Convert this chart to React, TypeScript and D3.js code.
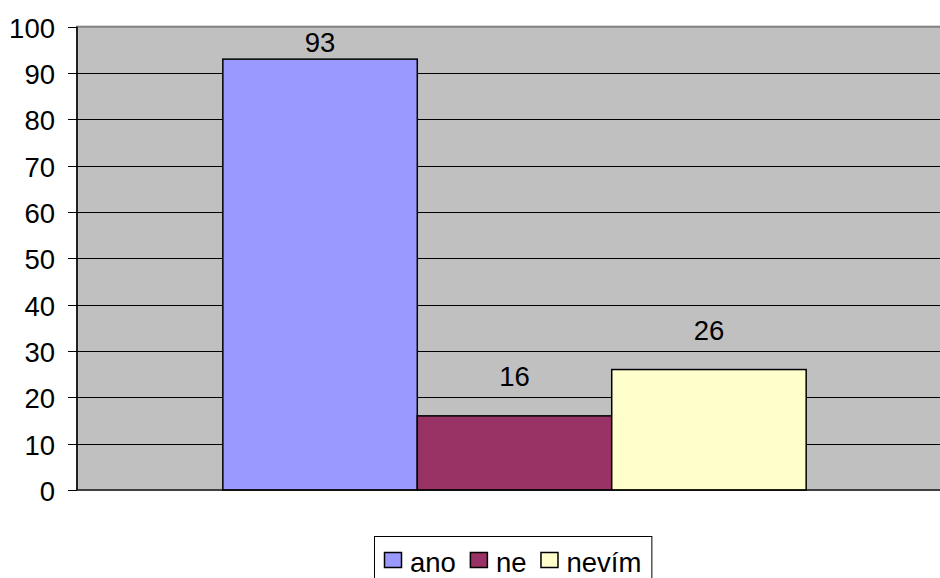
import React, { useMemo } from "react";
import * as d3 from "d3";

// Survey answers: one bar per answer
const categories = ["ano", "ne", "nevím"];
const values = [93, 16, 26];
const colors = ["#9999FF", "#993366", "#FFFFCC"];
const yTicks = [0, 10, 20, 30, 40, 50, 60, 70, 80, 90, 100];

const W = 940;
const H = 578;
const FONT = "'Liberation Sans', Arial, sans-serif";
const FS = 27.5;

function textWidth(s: string): number {
  const c = document.createElement("canvas").getContext("2d");
  if (!c) return s.length * FS * 0.55;
  c.font = `${FS}px ${FONT}`;
  return c.measureText(s).width;
}

export default function App() {
  const plot = { left: 77, top: 26.7, right: 952, bottom: 490 };

  const y = d3.scaleLinear().domain([0, 100]).range([plot.bottom, plot.top]);

  // single category group, gap width 150% of one bar
  const group = d3
    .scaleBand<string>()
    .domain(["all"])
    .range([plot.left, plot.right])
    .paddingInner(0)
    .paddingOuter(0.25);
  const x = d3
    .scaleBand<string>()
    .domain(categories)
    .range([group("all") as number, (group("all") as number) + group.bandwidth()]);

  const legendItems = useMemo(() => {
    const swatch = 17;
    const toText = 26;
    const gap = 14;
    let cx = 384;
    return categories.map((c, i) => {
      const item = { x: cx, textX: cx + toText, label: c, color: colors[i], swatch };
      cx = cx + toText + textWidth(c) + gap;
      return item;
    });
  }, []);
  const legendRight = (() => {
    const last = legendItems[legendItems.length - 1];
    return last.textX + textWidth(last.label) + 10;
  })();

  return (
    <svg
      width={W}
      height={H}
      style={{ position: "absolute", left: 0, top: 0, background: "#fff" }}
      fontFamily={FONT}
    >
      {/* plot area */}
      <rect
        x={plot.left}
        y={plot.top}
        width={plot.right - plot.left}
        height={plot.bottom - plot.top}
        fill="#C0C0C0"
        stroke="#808080"
        strokeWidth={2}
      />
      {/* gridlines */}
      {yTicks
        .filter((t) => t > 0 && t < 100)
        .map((t) => (
          <line
            key={"g" + t}
            x1={plot.left}
            x2={plot.right}
            y1={Math.round(y(t)) + 0.5}
            y2={Math.round(y(t)) + 0.5}
            stroke="#000"
            strokeWidth={1}
          />
        ))}
      {/* value axis */}
      <line x1={plot.left} x2={plot.left} y1={plot.top} y2={plot.bottom} stroke="#000" strokeWidth={1.5} />
      {yTicks.map((t) => (
        <g key={"t" + t}>
          <line
            x1={plot.left - 9}
            x2={plot.left}
            y1={Math.round(y(t)) + 0.5}
            y2={Math.round(y(t)) + 0.5}
            stroke="#000"
          />
          <text x={55} y={y(t) + 11} textAnchor="end" fontSize={FS} fill="#000">
            {t}
          </text>
        </g>
      ))}
      {/* bars */}
      {categories.map((c, i) => (
        <rect
          key={c}
          x={x(c) as number}
          y={y(values[i])}
          width={x.bandwidth()}
          height={y(0) - y(values[i])}
          fill={colors[i]}
          stroke="#000"
          strokeWidth={1.5}
        />
      ))}
      {/* category axis */}
      <line x1={plot.left} x2={plot.right} y1={plot.bottom} y2={plot.bottom} stroke="#000" strokeWidth={1} />
      {/* value labels */}
      {categories.map((c, i) => (
        <text
          key={"l" + c}
          x={(x(c) as number) + x.bandwidth() / 2}
          y={Math.max(y(values[i]) - 30, plot.top + 25)}
          textAnchor="middle"
          fontSize={FS}
          fill="#000"
        >
          {values[i]}
        </text>
      ))}
      {/* legend */}
      <rect x={374.5} y={536.5} width={legendRight - 374} height={60} fill="#fff" stroke="#000" strokeWidth={1} />
      {legendItems.map((it) => (
        <g key={"lg" + it.label}>
          <rect x={it.x + 0.5} y={552.5} width={it.swatch} height={15} fill={it.color} stroke="#000" strokeWidth={1.5} />
          <text x={it.textX} y={571.5} fontSize={FS} fill="#000">
            {it.label}
          </text>
        </g>
      ))}
    </svg>
  );
}
